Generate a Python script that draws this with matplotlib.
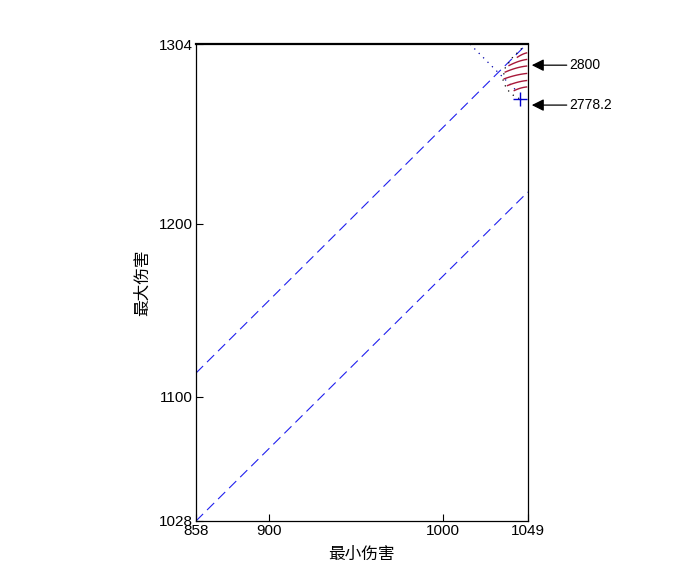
import numpy as np
import matplotlib
matplotlib.use("Agg")
import matplotlib.pyplot as plt

plt.rcParams['font.family'] = ['Liberation Sans', 'Noto Sans CJK SC', 'DejaVu Sans']

# axis range and ticks
x_range = [858, 1049]
y_range = [1028, 1304]
x_ticks = [858, 900, 1000, 1049]
y_ticks = [1028, 1100, 1200, 1304]

# dashed boundary lines
upper_x = [858, 1049]
upper_y = [1113.6, 1304.6]
lower_x = [858, 1049]
lower_y = [1028, 1218.4]

# dotted line from the top edge down to the marker
dot_x = [1015.7, 1029.5, 1043.3]
dot_y = [1304, 1290, 1276.2]
# dotted boundary left of the red arcs
dot2_x = [1045.5, 1040.0, 1035.5, 1034.8, 1036.8, 1040.5, 1044.0]
dot2_y = [1301.5, 1296.0, 1289.5, 1283.0, 1278.0, 1274.5, 1272.5]

# red arcs (start, middle, end)
arcs = [
    ([1043.0, 1045.8, 1048.3], [1296.4, 1298.0, 1298.9]),
    ([1038.2, 1043.5, 1048.3], [1291.6, 1293.9, 1295.1]),
    ([1036.0, 1042.3, 1048.3], [1287.8, 1290.1, 1291.3]),
    ([1035.4, 1042.0, 1048.3], [1283.9, 1285.9, 1287.0]),
    ([1037.3, 1043.0, 1048.3], [1280.0, 1281.9, 1282.9]),
    ([1041.2, 1044.8, 1048.3], [1277.1, 1278.5, 1279.2]),
]

marker_x = 1044.4
marker_y = 1272.0

labels = ["2800", "2778.2"]
label_y = [1291.8, 1268.7]

fig = plt.figure(figsize=(7, 5.88), dpi=100)
ax = fig.add_axes([0.28, 0.114, 0.474, 0.811])

ax.plot(upper_x, upper_y, color='#2020ee', lw=0.8, dashes=(9, 5))
ax.plot(lower_x, lower_y, color='#2020ee', lw=0.8, dashes=(9, 5))
ax.plot(dot_x, dot_y, color='#0000aa', lw=0.9, linestyle=(0, (1, 4)))
ax.plot(dot2_x, dot2_y, color='black', lw=0.9, linestyle=(0, (1, 4)))
for ax_x, ax_y in arcs:
    t = np.linspace(0, 1, 20)
    # quadratic through the three points
    xs = (1 - t) ** 2 * ax_x[0] + 2 * t * (1 - t) * (2 * ax_x[1] - (ax_x[0] + ax_x[2]) / 2) + t ** 2 * ax_x[2]
    ys = (1 - t) ** 2 * ax_y[0] + 2 * t * (1 - t) * (2 * ax_y[1] - (ax_y[0] + ax_y[2]) / 2) + t ** 2 * ax_y[2]
    ax.plot(xs, ys, color='#a8183a', lw=1.0)
ax.plot(marker_x, marker_y, marker='+', color='#0000cc', ms=10, mew=1.0)

for lab, ly in zip(labels, label_y):
    ax.annotate(lab, xy=(1051.3, ly), xytext=(1073, ly), textcoords='data',
                va='center', ha='left', fontsize=10, annotation_clip=False,
                arrowprops=dict(arrowstyle='-|>', color='black', lw=0.9,
                                mutation_scale=18, shrinkA=0, shrinkB=0))

ax.set_xlim(x_range)
ax.set_ylim(y_range)
ax.set_xticks(x_ticks)
ax.set_yticks(y_ticks)
ax.tick_params(direction='in', length=5, labelsize=11, pad=2)
for s in ax.spines.values():
    s.set_linewidth(0.9)
ax.spines['top'].set_linewidth(1.6)

ax.set_xlabel('最小伤害', fontsize=12, family=['Noto Sans CJK SC'], labelpad=6)
ax.set_ylabel('最大伤害', fontsize=12, family=['Noto Sans CJK SC'], labelpad=6)

fig.savefig('out.png', dpi=100)
